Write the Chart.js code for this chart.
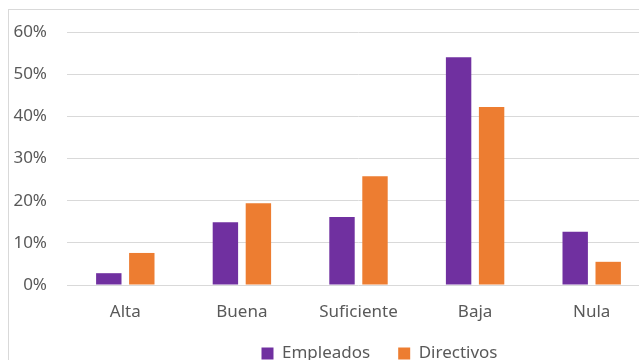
<!DOCTYPE html>
<html>
<head>
<meta charset="utf-8">
<script src="https://cdn.jsdelivr.net/npm/chart.js@4"></script>
<style>
  html, body { margin: 0; padding: 0; background: #fff; overflow: hidden; }
  #frame { position: absolute; left: 8px; top: 9px; width: 700px; height: 400px;
           border-left: 1px solid #d9d9d9; border-top: 1px solid #d9d9d9; }
  #myChart { position: absolute; left: 0; top: 0; }
</style>
</head>
<body>
<div id="frame"></div>
<canvas id="myChart" width="660" height="378"></canvas>
<script>
const categories = ['Alta', 'Buena', 'Suficiente', 'Baja', 'Nula'];
const empleados = [2.8, 14.9, 16.1, 54.0, 12.6];
const directivos = [7.6, 19.4, 25.8, 42.2, 5.5];
const yMin = 0;
const yMax = 60;
const yStep = 10;

const textColor = '#595959';
const fontFamily = '"Noto Sans", "Open Sans", sans-serif';

// nudge the legend: the original chart is wider than the picture
const moveLegend = {
    id: 'moveLegend',
    afterLayout(chart) {
        const lg = chart.legend;
        lg.left += 50;
        lg.right += 50;
        lg.top -= 6;
        lg.bottom -= 6;
    }
};

const canvas = document.querySelector('#myChart');

new Chart(canvas, {
    type: 'bar',
    data: {
        labels: categories,
        datasets: [{
            label: 'Empleados',
            data: empleados,
            backgroundColor: '#7030A0',
            categoryPercentage: 0.566,
            barPercentage: 0.77
        }, {
            label: 'Directivos',
            data: directivos,
            backgroundColor: '#ED7D31',
            categoryPercentage: 0.566,
            barPercentage: 0.77
        }]
    },
    options: {
        responsive: false,
        animation: false,
        layout: {
            padding: { top: 32, left: 9, right: 10, bottom: 0 }
        },
        scales: {
            x: {
                grid: { display: false, drawTicks: false },
                border: { display: false },
                ticks: {
                    color: textColor,
                    font: { family: fontFamily, size: 17 },
                    padding: 17
                },
                afterFit(scale) { scale.height = 38; }
            },
            y: {
                min: yMin,
                max: yMax,
                grid: { color: '#d9d9d9', drawTicks: false },
                border: { display: false },
                ticks: {
                    stepSize: yStep,
                    color: textColor,
                    font: { family: fontFamily, size: 17 },
                    padding: 20,
                    callback: v => v + '%'
                },
                afterFit(scale) { scale.width = 58; }
            }
        },
        plugins: {
            legend: {
                position: 'bottom',
                labels: {
                    color: textColor,
                    font: { family: fontFamily, size: 17 },
                    boxWidth: 12,
                    boxHeight: 12,
                    padding: 28
                }
            },
            tooltip: { enabled: false }
        }
    },
    plugins: [moveLegend]
});
</script>
</body>
</html>
